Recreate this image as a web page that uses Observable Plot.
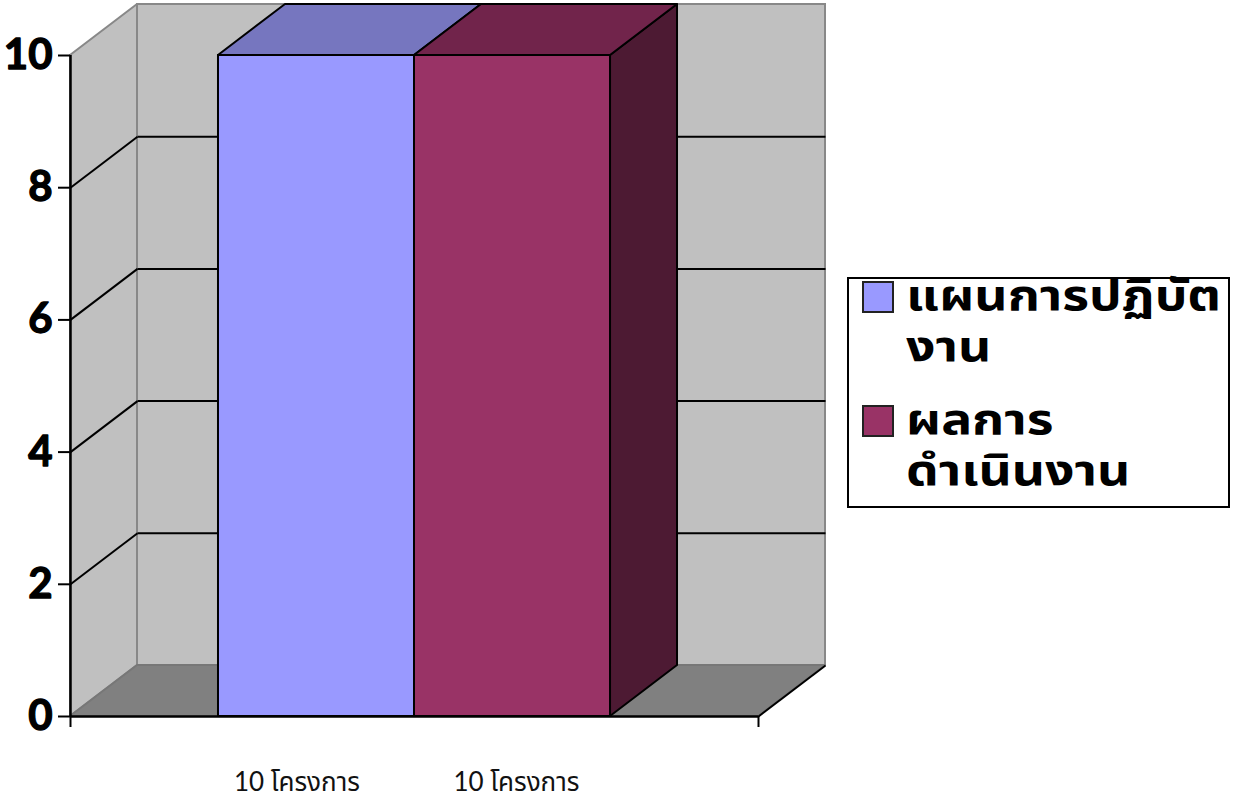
<!DOCTYPE html>
<html><head><meta charset="utf-8">
<script src="https://cdn.jsdelivr.net/npm/d3@7"></script>
<script src="https://cdn.jsdelivr.net/npm/@observablehq/plot@0.6"></script>
<style>
body{margin:0;background:#fff;font-family:Lato,"Noto Sans Thai","Noto Sans",sans-serif;}
#wrap{position:relative;width:1234px;height:797px;}
#legend{position:absolute;left:847px;top:277px;width:379px;height:227px;border:2px solid #000;background:#fff;}
.item{position:absolute;left:13px;display:flex;align-items:flex-start;}
.sw{width:28px;height:28px;border:2px solid #222;margin-right:12px;flex:none;}
.txt{font-weight:bold;font-size:43px;line-height:51px;color:#000;white-space:nowrap;transform:scaleX(1.2);transform-origin:0 0;}
</style></head>
<body><div id="wrap"><div id="chart"></div><div id="legend"></div></div>
<script>
// ---- data ----
const categories = ["10 โครงการ", "10 โครงการ"];
const legendLines = [["แผนการปฏิบัต", "งาน"], ["ผลการ", "ดำเนินงาน"]];
const series = legendLines.map(l => l.join(""));
const values = [10, 10];
const yTicks = [0, 2, 4, 6, 8, 10];

// ---- styles ----
const frontColors = ["#9999ff", "#993366"];
const topColors = ["#7676bf", "#71244b"];
const sideColors = ["#4c4c80", "#4d1a33"];

// ---- layout ----
const W = 1234, H = 797, mL = 70, mR = 476, mT = 55, mB = 81;
const gap = 0.755;
const xDomain = [-gap, values.length + gap];
const yDomain = [0, 10];
const depthPx = [67, 51];
const ddx = depthPx[0] * (xDomain[1] - xDomain[0]) / (W - mL - mR);
const ddy = depthPx[1] * (yDomain[1] - yDomain[0]) / (H - mT - mB);
const x0 = xDomain[0], x1 = xDomain[1], yMax = yDomain[1];
const labelPos = [0.40, 1.52];
const legendTops = [-11, 113];

const bars = values.map((v, i) => ({i, v, name: series[i]}));
const inner = yTicks.filter(t => t > 0 && t < yMax);

const marks = [
  // left side wall
  Plot.areaY([{x: x0, y1: 0, y2: yMax}, {x: x0 + ddx, y1: ddy, y2: yMax + ddy}],
    {x: "x", y1: "y1", y2: "y2", fill: "#c0c0c0", stroke: "#888", strokeWidth: 2}),
  // back wall
  Plot.rect([{a: x0 + ddx, b: x1 + ddx, c: ddy, d: yMax + ddy}],
    {x1: "a", x2: "b", y1: "c", y2: "d", fill: "#c0c0c0", stroke: "#888", strokeWidth: 2}),
  // floor
  Plot.areaX([{y: 0, x1: x0, x2: x1}, {y: ddy, x1: x0 + ddx, x2: x1 + ddx}],
    {y: "y", x1: "x1", x2: "x2", fill: "#808080", stroke: "#777", strokeWidth: 2}),
  // gridlines on back wall and side wall
  Plot.link(inner, {x1: () => x0 + ddx, x2: () => x1 + ddx, y1: d => d + ddy, y2: d => d + ddy, stroke: "#000", strokeWidth: 2}),
  Plot.link(inner, {x1: () => x0, x2: () => x0 + ddx, y1: d => d, y2: d => d + ddy, stroke: "#000", strokeWidth: 2}),
  // floor right edge
  Plot.link([0], {x1: () => x1, x2: () => x1 + ddx, y1: () => 0, y2: () => ddy, stroke: "#000", strokeWidth: 2}),
  // bar sides
  ...bars.map(b => Plot.areaY([{x: b.i + 1, y1: 0, y2: b.v}, {x: b.i + 1 + ddx, y1: ddy, y2: b.v + ddy}],
    {x: "x", y1: "y1", y2: "y2", fill: sideColors[b.i], stroke: "#000", strokeWidth: 2})),
  // bar tops
  ...bars.map(b => Plot.areaX([{y: b.v, x1: b.i, x2: b.i + 1}, {y: b.v + ddy, x1: b.i + ddx, x2: b.i + 1 + ddx}],
    {y: "y", x1: "x1", x2: "x2", fill: topColors[b.i], stroke: "#000", strokeWidth: 2})),
  // bar fronts
  ...bars.map(b => Plot.rect([b], {x1: "i", x2: d => d.i + 1, y1: () => 0, y2: "v", fill: frontColors[b.i], stroke: "#000", strokeWidth: 2})),
  // axis lines
  Plot.ruleX([x0], {y1: () => 0, y2: () => yMax, stroke: "#000", strokeWidth: 2.5}),
  Plot.ruleY([0], {x1: () => x0, x2: () => x1, stroke: "#000", strokeWidth: 2.5}),
  Plot.axisY({ticks: yTicks, tickSize: 12, tickFormat: () => "", strokeWidth: 2, label: null}),
  Plot.text(yTicks, {x: () => x0, y: d => d, text: d => String(d), dx: -18, textAnchor: "end",
    fontSize: 42, fontWeight: "bold", fill: "#000", stroke: "#000", strokeWidth: 1.3}),
  Plot.axisX({ticks: [x0, x1], tickFormat: () => "", tickSize: 11, strokeWidth: 2, label: null}),
  // category labels
  Plot.text(categories.map((c, i) => ({c, p: labelPos[i]})), {x: "p", y: () => 0, text: "c", dy: 66, fontSize: 26, fill: "#111"})
];

const chart = Plot.plot({
  width: W, height: H,
  marginLeft: mL, marginRight: mR, marginTop: mT, marginBottom: mB,
  x: {domain: xDomain},
  y: {domain: yDomain},
  style: {fontFamily: 'Lato,"Noto Sans Thai","Noto Sans",sans-serif', background: "transparent", overflow: "visible"},
  marks
});
document.getElementById("chart").appendChild(chart);

const legend = document.getElementById("legend");
series.forEach((s, i) => {
  const it = document.createElement("div");
  it.className = "item";
  it.style.top = legendTops[i] + "px";
  const sw = document.createElement("div");
  sw.className = "sw";
  sw.style.background = frontColors[i];
  sw.style.marginTop = "13px";
  const tx = document.createElement("div");
  tx.className = "txt";
  tx.innerHTML = legendLines[i].join("<br>");
  it.appendChild(sw); it.appendChild(tx);
  legend.appendChild(it);
});
</script></body></html>
